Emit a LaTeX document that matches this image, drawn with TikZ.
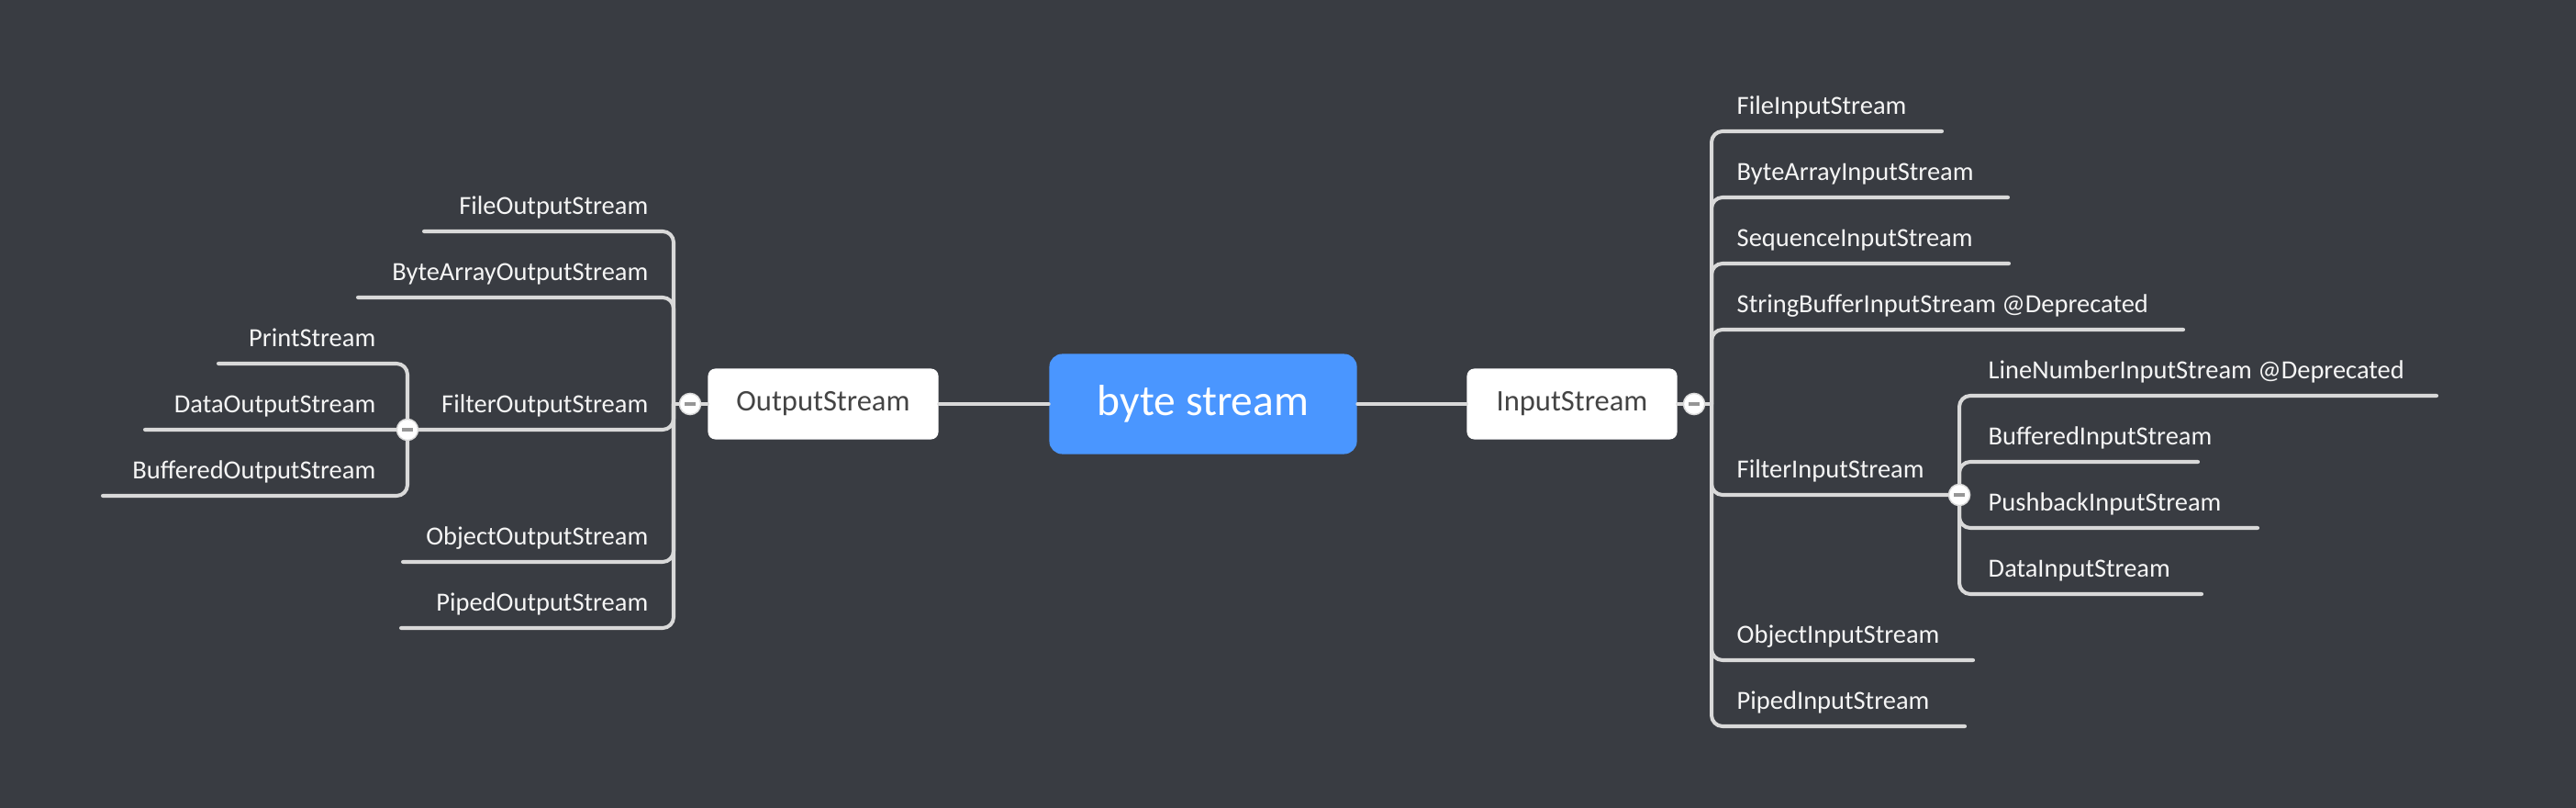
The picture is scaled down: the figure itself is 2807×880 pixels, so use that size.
\documentclass[tikz,border=0pt]{standalone}
\usepackage{fontspec}
\setmainfont{Carlito}
\usetikzlibrary{calc}
\definecolor{bgdark}{RGB}{57,60,66}
\definecolor{rootblue}{RGB}{74,150,255}
\definecolor{linegray}{RGB}{217,217,217}
\definecolor{leaftext}{RGB}{245,245,245}
\definecolor{topictext}{RGB}{68,68,68}
\definecolor{minusgray}{RGB}{150,150,150}
\newcommand{\leaffont}{\fontsize{8.1}{10}\selectfont}
\newcommand{\topicfont}{\fontsize{9.25}{11}\selectfont}
\newcommand{\rootfont}{\fontsize{13.5}{16}\selectfont}
\newcommand{\foldmark}[1]{%
  \filldraw[fill=white, draw=linegray, line width=0.4pt] (#1) circle (3.3pt);
  \draw[draw=minusgray, line width=1.1pt, line cap=butt] ($(#1)+(-6,0)$) -- ++(12,0);
}

\begin{document}
\begin{tikzpicture}[x=0.01cm, y=-0.01cm, line cap=round, line join=round]
\tikzset{branch/.style={draw=linegray, line width=1.15pt, rounded corners=3.4pt},
  leaf/.style={text=leaftext, font=\leaffont, inner sep=0pt},
  topic/.style={fill=white, text=topictext, font=\topicfont, rounded corners=2.3pt, minimum height=0.77cm, inner sep=0pt},
  root/.style={fill=rootblue, text=white, font=\rootfont, rounded corners=4pt, minimum width=3.35cm, minimum height=1.09cm, inner sep=0pt}}

% canvas (px)
\fill[bgdark] (0,0) rectangle (2807,880);
\useasboundingbox (0,0) rectangle (2807,880);

% central topic + main topics
\node[root] (root) at (1311,440) {byte stream};
\node[topic, minimum width=2.51cm] (out) at (897,440) {OutputStream};
\node[topic, minimum width=2.29cm] (in) at (1713,440) {InputStream};

% fold markers and spine joints
\coordinate (outC) at (752,440);
\coordinate (inC) at (1846,440);
\coordinate (outJ) at (734,440);
\coordinate (inJ) at (1865,440);
\coordinate (outFC) at (444,468);
\coordinate (inFC) at (2135,539);

% main links
\draw[branch] (root.west) -- (out.east);
\draw[branch] (root.east) -- (in.west);
\draw[branch] (out.west) -- (outC) -- (outJ);
\draw[branch] (in.east) -- (inC) -- (inJ);

% InputStream children
\foreach \y/\xe/\lbl [count=\i] in {143/2116/FileInputStream, 215/2188/ByteArrayInputStream,
    287/2189/SequenceInputStream, 359/2379/{StringBufferInputStream @Deprecated},
    719/2150/ObjectInputStream, 791/2141/PipedInputStream}{
  \coordinate (inE\i) at (\xe,\y);
  \node[leaf, anchor=base west] (inL\i) at (1892,\y-18) {\lbl};
  \draw[branch] (inJ) |- (inE\i);
}
\node[leaf, anchor=base west] (inFL) at (1892,521) {FilterInputStream};
\draw[branch] (inJ) |- (inFC);

% FilterInputStream children
\foreach \y/\xe/\lbl [count=\i] in {431/2655/{LineNumberInputStream @Deprecated}, 503/2395/BufferedInputStream,
    575/2460/PushbackInputStream, 647/2399/DataInputStream}{
  \coordinate (inFE\i) at (\xe,\y);
  \node[leaf, anchor=base west] (inFL\i) at (2166,\y-18) {\lbl};
  \draw[branch] (inFC) |- (inFE\i);
}

% OutputStream children
\foreach \y/\xe/\lbl [count=\i] in {252/462/FileOutputStream, 324/390/ByteArrayOutputStream,
    612/439/ObjectOutputStream, 684/437/PipedOutputStream}{
  \coordinate (outE\i) at (\xe,\y);
  \node[leaf, anchor=base east] (outL\i) at (707,\y-18) {\lbl};
  \draw[branch] (outJ) |- (outE\i);
}
\node[leaf, anchor=base east] (outFL) at (707,450) {FilterOutputStream};
\draw[branch] (outJ) |- (outFC);

% FilterOutputStream children
\foreach \y/\xe/\lbl [count=\i] in {396/238/PrintStream, 468/158/DataOutputStream, 540/112/BufferedOutputStream}{
  \coordinate (outFE\i) at (\xe,\y);
  \node[leaf, anchor=base east] (outFL\i) at (410,\y-18) {\lbl};
  \draw[branch] (outFC) |- (outFE\i);
}

% markers on top
\foreach \c in {outC,inC,outFC,inFC}{
  \foldmark{\c}
}
\end{tikzpicture}
\end{document}
